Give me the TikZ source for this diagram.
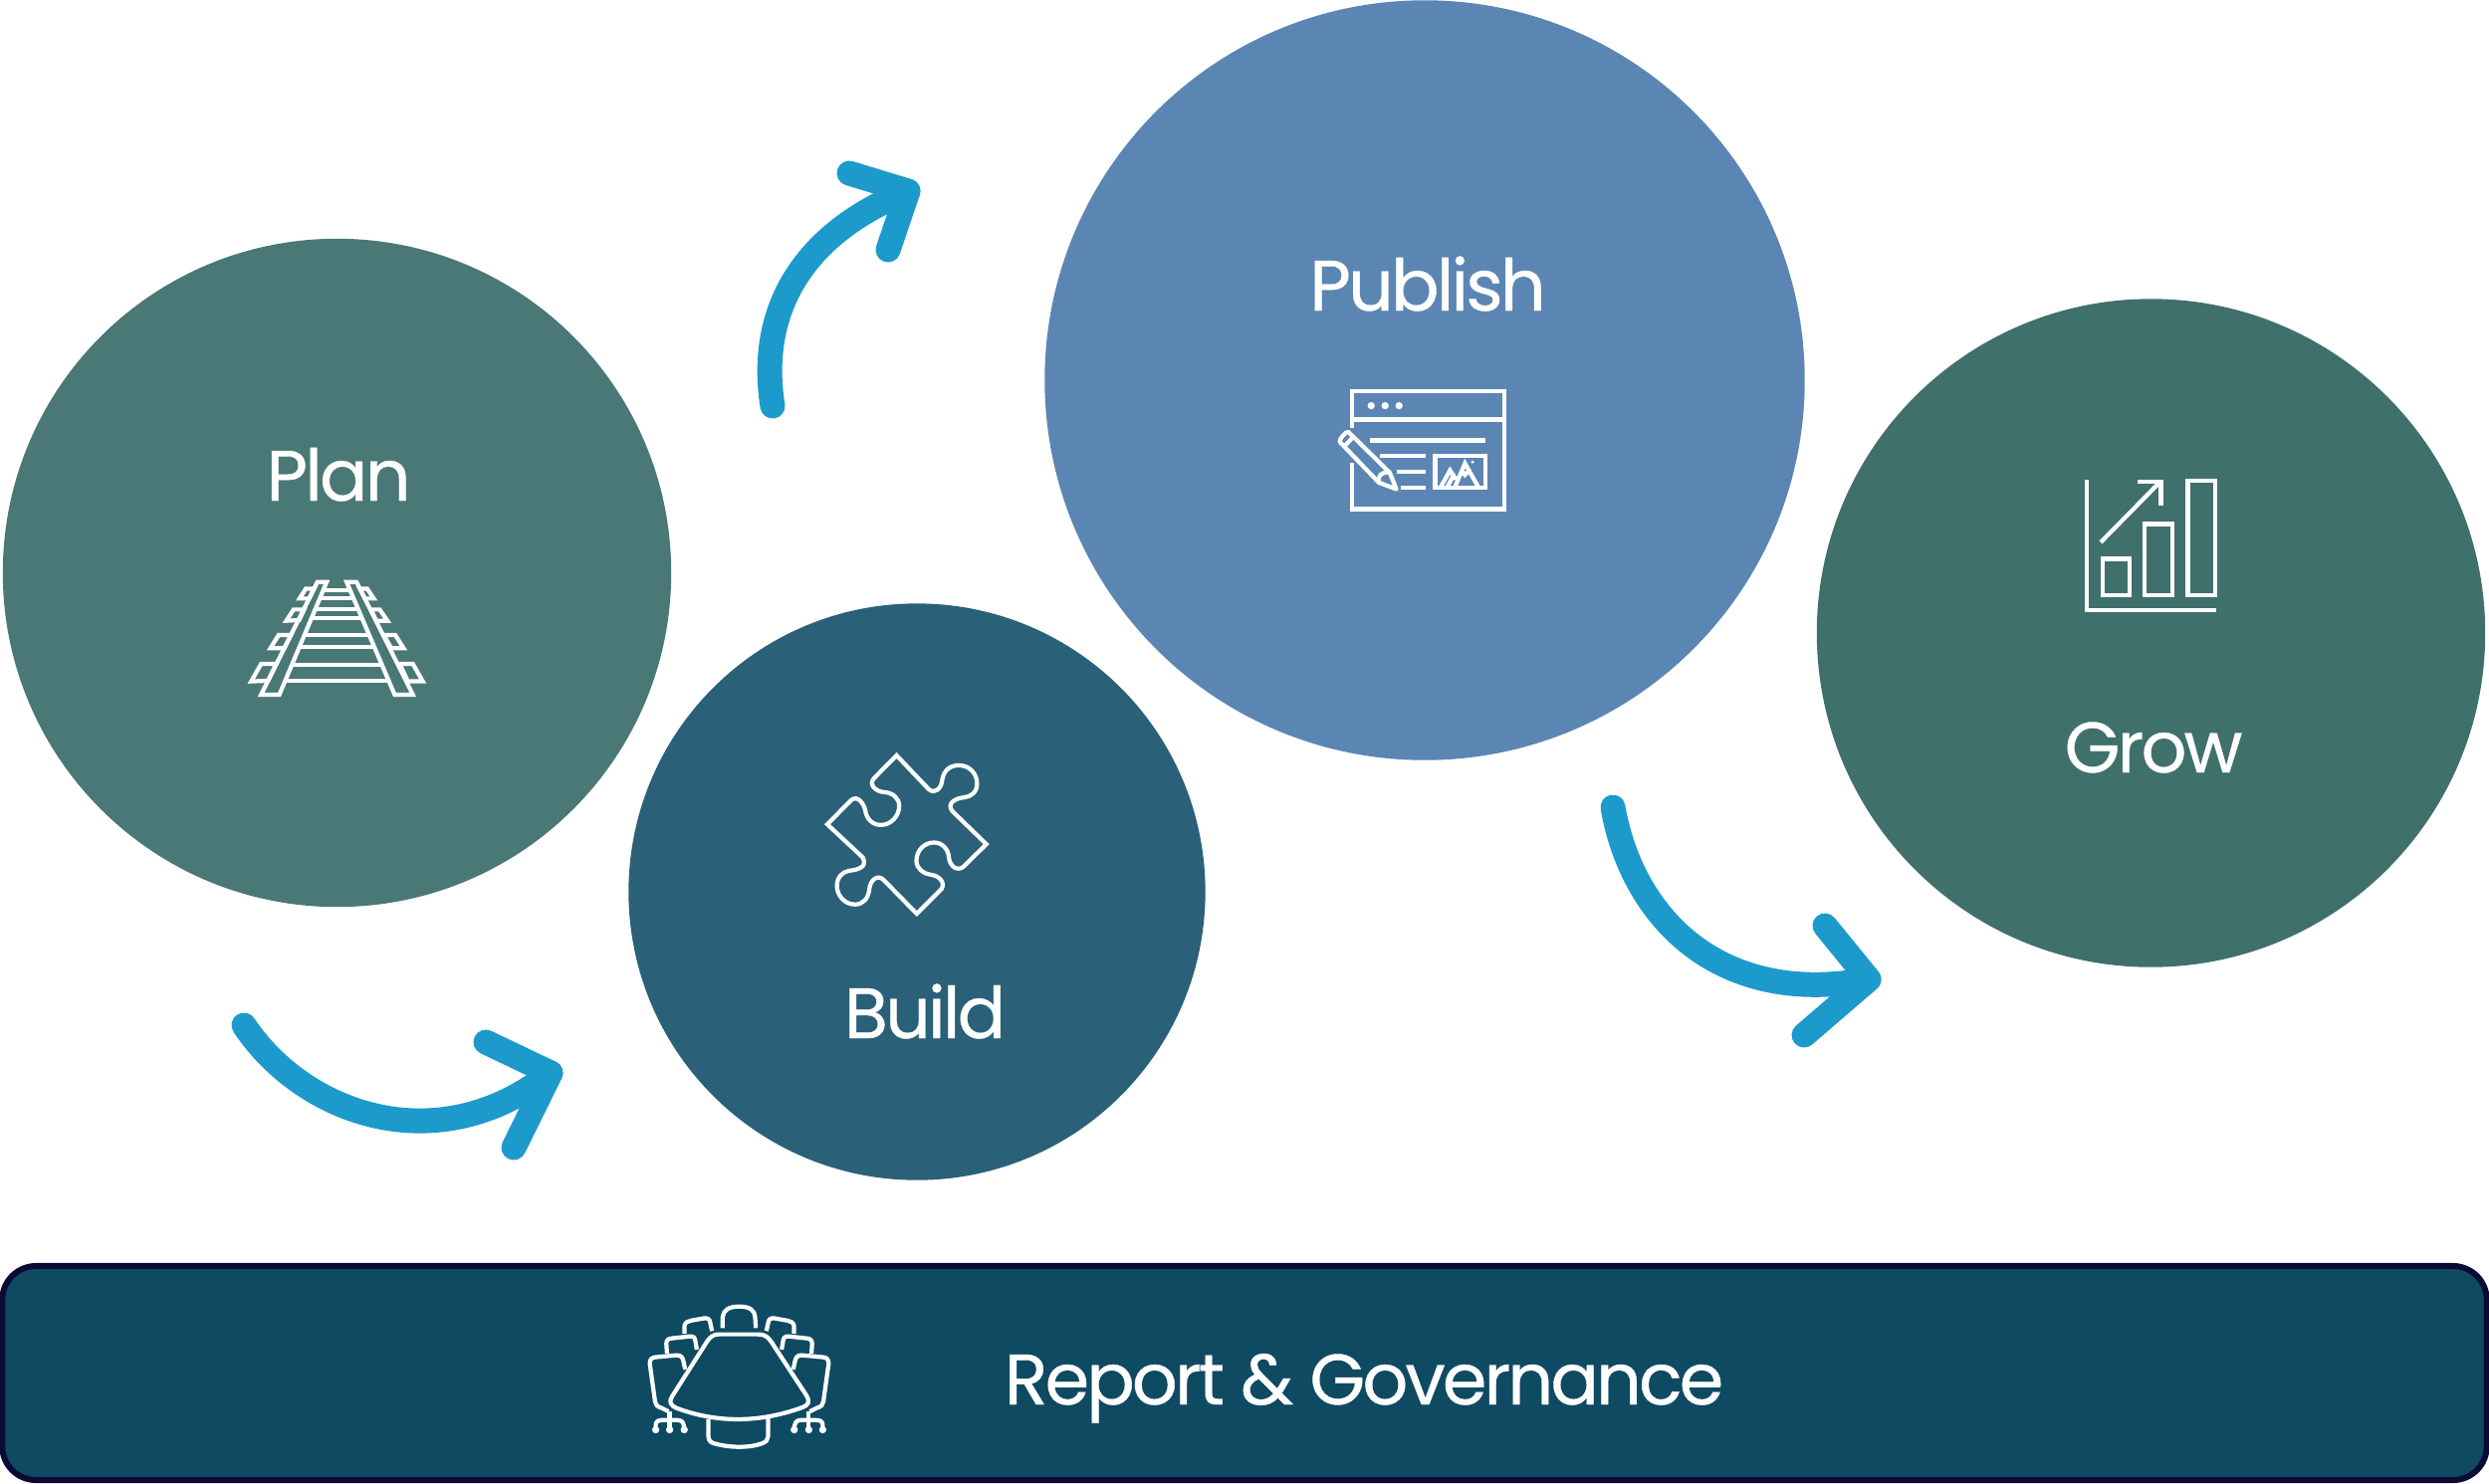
\documentclass[tikz,border=0pt]{standalone}
\usepackage{fontspec}
\setmainfont{Poppins}[FakeBold=0.5,LetterSpace=-4]
\definecolor{cplan}{HTML}{4A7876}
\definecolor{cbuild}{HTML}{2A6078}
\definecolor{cpublish}{HTML}{5B86B3}
\definecolor{cgrow}{HTML}{40706C}
\definecolor{cbar}{HTML}{0F4A63}
\definecolor{cborder}{HTML}{0A0A33}
\definecolor{carrow}{HTML}{1D9ACC}
\tikzset{
  disc/.style={circle,inner sep=0pt,outer sep=0pt,draw=none},
  lab/.style={text=white,anchor=base,inner sep=0pt,font=\fontsize{20.4pt}{24pt}\selectfont},
  flow/.style={draw=carrow,line width=7.1pt,line cap=round,line join=round},
  ico/.style={x=0.0033333cm,y=-0.0033333cm},
  icoline/.style={draw=white,line width=1.2pt},
}
\newcommand{\chairset}{%
  \draw[icoline,line join=round] (173,120) -- (173,95) .. controls (175,85) and (185,82) .. (195,80) -- (235,73) .. controls (250,73) and (250,85) .. (250,85) -- (256,112);
  \draw[icoline,line join=round] (120,180) -- (118,150) .. controls (118,138) and (125,135) .. (135,134) -- (190,128) .. controls (203,128) and (205,135) .. (206,145) -- (210,168);
  \draw[icoline,line join=round] (125,355) -- (105,345) .. controls (90,340) and (85,335) .. (84,325) -- (68,210) .. controls (68,197) and (75,192) .. (85,191) -- (150,185) .. controls (165,185) and (168,195) .. (170,205) -- (175,228);
  \draw[icoline] (128,355) -- (128,410);
  \draw[icoline] (86,410) -- (86,395) .. controls (86,385) and (95,381) .. (105,381) -- (152,381) .. controls (165,381) and (172,388) .. (172,410);
  \fill[white] (86,410) circle (11) (128,410) circle (11) (172,410) circle (11);
}
\begin{document}
\begin{tikzpicture}[x=0.01cm,y=-0.01cm]
\useasboundingbox (0,0) rectangle (2500,1490);
% circles
\node[disc,fill=cplan,minimum size=6.71cm] (plan) at (338.5,575.5) {};
\node[disc,fill=cbuild,minimum size=5.79cm] (build) at (921,896) {};
\node[disc,fill=cpublish,minimum size=7.63cm] (publish) at (1431,382) {};
\node[disc,fill=cgrow,minimum size=6.71cm] (grow) at (2160.5,636) {};
% bar
\node[draw=cborder,fill=cbar,line width=1.7pt,rounded corners=0.34cm,minimum width=24.94cm,minimum height=2.15cm,inner sep=0pt,outer sep=0pt] (bar) at (1250,1379.5) {};
% labels
\node[lab] (tplan) at (340,503) {Plan};
\node[lab] (tbuild) at (929,1043) {Build};
\node[lab] (tpublish) at (1434,312) {Publish};
\node[lab] (tgrow) at (2163,776) {Grow};
\node[lab] (tbar) at (1370,1411) {Report \& Governance};
% arrows
\coordinate (a1s) at (245,1030);
\coordinate (a1t) at (553,1078);
\coordinate (a1h) at (488,1047);
\coordinate (a1k) at (516,1153);
\draw[flow] (a1s) .. controls (305,1120) and (440,1168) .. (a1t);
\draw[flow] (a1h) -- (a1t) -- (a1k);
\coordinate (a2s) at (776,408);
\coordinate (a2t) at (912,192);
\coordinate (a2h) at (853,174);
\coordinate (a2k) at (892,251);
\draw[flow] (a2s) .. controls (762,320) and (798,238) .. (a2t);
\draw[flow] (a2h) -- (a2t) -- (a2k);
\coordinate (a3s) at (1620,811);
\coordinate (a3t) at (1877,984);
\coordinate (a3h) at (1833,930);
\coordinate (a3k) at (1812,1040);
\draw[flow] (a3s) .. controls (1640,925) and (1730,1012) .. (a3t);
\draw[flow] (a3h) -- (a3t) -- (a3k);
% rail icon
\begin{scope}[shift={(220,420)},ico]
\draw[icoline] (297,495) -- (325,495) -- (182,835) -- (127,835) -- cycle;
\draw[icoline] (385,495) -- (415,495) -- (585,835) -- (530,835) -- cycle;
\draw[icoline] (314,520) -- (396,520) (304,545) -- (406,545) (290,578) -- (420,578) (279,605) -- (432,605) (258,655) -- (453,655) (243,690) -- (468,690) (220,745) -- (491,745) (200,793) -- (512,793);
\draw[icoline] (262,515) -- (287,515) -- (272,545) -- (243,545) -- cycle;
\draw[icoline] (225,578) -- (257,578) -- (242,610) -- (203,612) -- cycle;
\draw[icoline] (180,655) -- (217,655) -- (197,695) -- (155,695) -- cycle;
\draw[icoline] (127,742) -- (173,742) -- (148,793) -- (97,795) -- cycle;
\draw[icoline] (425,515) -- (447,515) -- (467,545) -- (440,545) -- cycle;
\draw[icoline] (458,578) -- (485,578) -- (508,612) -- (475,612) -- cycle;
\draw[icoline] (497,655) -- (532,655) -- (557,695) -- (520,695) -- cycle;
\draw[icoline] (545,742) -- (585,742) -- (615,795) -- (570,795) -- cycle;
\end{scope}
% puzzle icon
\begin{scope}[shift={(800,730)},ico]
\draw[icoline,line join=miter] (302,87) -- (400,190) .. controls (420,205) and (438,185) .. (440,160) .. controls (445,130) and (465,117) .. (490,117) .. controls (525,117) and (545,145) .. (545,172) .. controls (545,200) and (525,212) .. (505,214) .. controls (480,216) and (452,232) .. (470,255) -- (573,355) -- (505,422) .. controls (485,440) and (462,420) .. (460,395) .. controls (458,370) and (440,350) .. (415,350) .. controls (385,350) and (362,375) .. (362,405) .. controls (362,430) and (385,445) .. (405,447) .. controls (430,450) and (450,470) .. (438,490) -- (363,565) -- (265,465) .. controls (245,442) and (222,465) .. (220,490) .. controls (217,520) and (200,537) .. (177,537) .. controls (145,537) and (122,510) .. (122,480) .. controls (122,455) and (140,437) .. (160,435) .. controls (185,432) and (215,425) .. (200,395) -- (93,295) -- (165,222) .. controls (185,205) and (205,235) .. (208,255) .. controls (212,280) and (230,297) .. (255,297) .. controls (285,297) and (310,270) .. (310,240) .. controls (310,215) and (290,200) .. (265,198) .. controls (240,197) and (215,175) .. (235,155) -- cycle;
\end{scope}
% publish icon
\begin{scope}[shift={(1320,370)},ico]
\draw[icoline] (113,180) -- (113,70) -- (575,70) -- (575,425) -- (113,425) -- (113,285);
\draw[icoline] (113,155) -- (575,155);
\fill[white] (172,113) circle (11) (214,113) circle (11) (256,113) circle (11);
\draw[icoline] (168,218) -- (518,218) (198,265) -- (336,265) (248,313) -- (336,313) (262,360) -- (336,360);
\draw[icoline] (365,265) rectangle (516,361);
\draw[icoline] (382,358) -- (410,308) -- (428,335) (402,358) -- (418,328) (425,358) -- (455,287) -- (495,358) (445,310) -- (455,322) -- (466,310);
\fill[white] (478,283) circle (5);
\draw[icoline,line join=round] (103,192) -- (228,315) -- (248,365) -- (195,345) -- (77,222) .. controls (74,215) and (96,190) .. (103,192) -- cycle;
\draw[icoline] (118,207) -- (92,235);
\draw[icoline] (195,345) .. controls (190,325) and (205,310) .. (228,315);
\end{scope}
% grow icon
\begin{scope}[shift={(2070,460)},ico]
\draw[icoline] (77,65) -- (77,460) -- (470,460);
\draw[icoline] (125,305) rectangle (208,415);
\draw[icoline] (253,200) rectangle (337,415);
\draw[icoline] (383,70) rectangle (466,415);
\draw[icoline] (120,255) -- (300,72);
\draw[icoline] (230,72) -- (302,72) -- (302,143);
\end{scope}
% table icon
\begin{scope}[shift={(630,1300)},ico]
\draw[icoline,line join=round] (275,122) -- (395,122) .. controls (415,122) and (425,130) .. (435,145) -- (540,305) .. controls (552,325) and (548,335) .. (530,342) .. controls (400,390) and (270,390) .. (150,345) .. controls (130,337) and (125,325) .. (135,310) -- (240,145) .. controls (250,130) and (260,122) .. (275,122) -- cycle;
\draw[icoline] (245,378) -- (245,430) .. controls (245,445) and (255,450) .. (265,452) .. controls (310,465) and (370,465) .. (405,452) .. controls (420,447) and (425,440) .. (425,430) -- (425,375);
\draw[icoline] (288,103) -- (288,70) .. controls (290,50) and (305,38) .. (338,38) .. controls (370,38) and (385,50) .. (386,70) -- (388,103);
\chairset
\begin{scope}[shift={(676,0)},xscale=-1]
\chairset
\end{scope}
\end{scope}
\end{tikzpicture}
\end{document}
